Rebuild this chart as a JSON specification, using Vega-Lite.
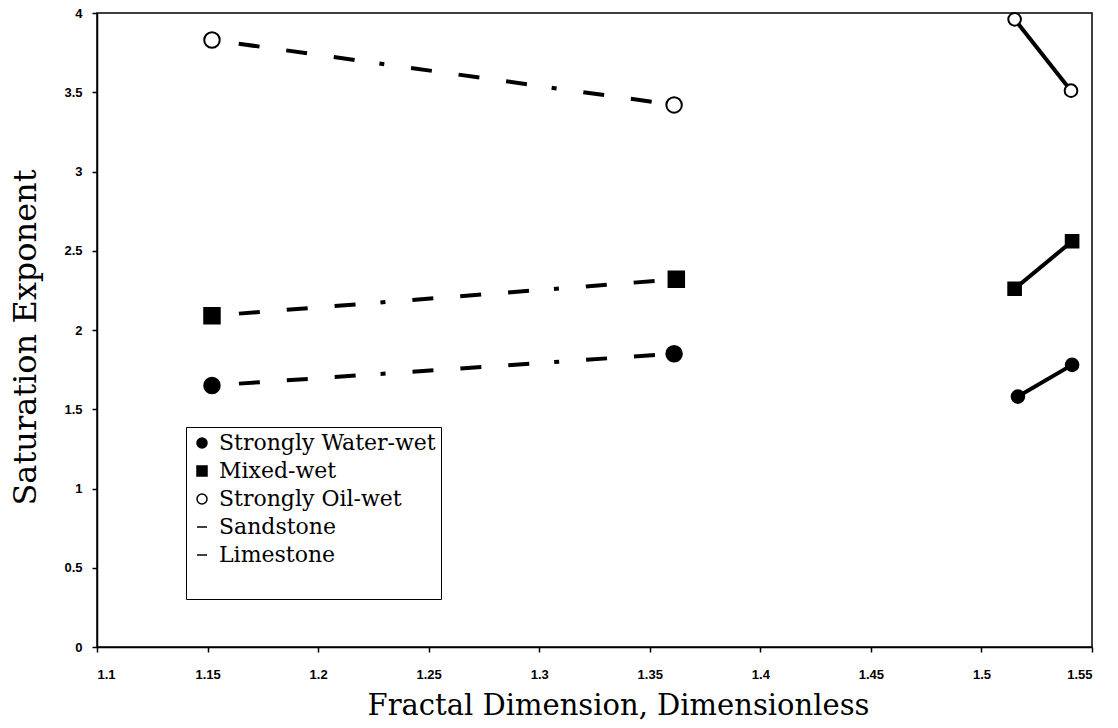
{
  "$schema": "https://vega.github.io/schema/vega-lite/v6.json",
  "width": 995,
  "height": 634,
  "autosize": {"type": "none"},
  "padding": {"left": 97, "top": 13, "right": 26, "bottom": 81},
  "background": "white",
  "data": {
    "values": [
      {"lith": "Sandstone", "wet": "Strongly Water-wet", "fd": 1.152, "n": 1.65},
      {"lith": "Sandstone", "wet": "Strongly Water-wet", "fd": 1.361, "n": 1.85},
      {"lith": "Sandstone", "wet": "Mixed-wet", "fd": 1.152, "n": 2.09},
      {"lith": "Sandstone", "wet": "Mixed-wet", "fd": 1.362, "n": 2.32},
      {"lith": "Sandstone", "wet": "Strongly Oil-wet", "fd": 1.152, "n": 3.83},
      {"lith": "Sandstone", "wet": "Strongly Oil-wet", "fd": 1.361, "n": 3.42},
      {"lith": "Limestone", "wet": "Strongly Water-wet", "fd": 1.5165, "n": 1.58},
      {"lith": "Limestone", "wet": "Strongly Water-wet", "fd": 1.541, "n": 1.78},
      {"lith": "Limestone", "wet": "Mixed-wet", "fd": 1.515, "n": 2.26},
      {"lith": "Limestone", "wet": "Mixed-wet", "fd": 1.541, "n": 2.56},
      {"lith": "Limestone", "wet": "Strongly Oil-wet", "fd": 1.515, "n": 3.96},
      {"lith": "Limestone", "wet": "Strongly Oil-wet", "fd": 1.5405, "n": 3.51}
    ]
  },
  "encoding": {
    "x": {
      "field": "fd", "type": "quantitative",
      "scale": {"domain": [1.1, 1.55], "nice": false, "zero": false},
      "axis": {
        "title": "Fractal Dimension, Dimensionless",
        "values": [1.1, 1.15, 1.2, 1.25, 1.3, 1.35, 1.4, 1.45, 1.5, 1.55],
        "format": "~g",
        "titleX": 521,
        "titlePadding": 10,
        "titleFontSize": 29,
        "labelPadding": 16
      }
    },
    "y": {
      "field": "n", "type": "quantitative",
      "scale": {"domain": [0, 4], "nice": false},
      "axis": {
        "title": "Saturation Exponent",
        "values": [0, 0.5, 1, 1.5, 2, 2.5, 3, 3.5, 4],
        "format": "~g",
        "titleY": 324,
        "titlePadding": 21,
        "titleFontSize": 32,
        "labelPadding": 10
      }
    }
  },
  "layer": [
    {
      "mark": {"type": "line", "strokeWidth": 4, "color": "black", "strokeDashOffset": 147},
      "encoding": {
        "detail": {"field": "wet", "type": "nominal"},
        "strokeDash": {
          "field": "lith", "type": "nominal",
          "scale": {
            "domain": ["Sandstone", "Limestone"],
            "range": [[21, 27, 21, 27, 21, 25, 5, 27], [2000, 1]]
          },
          "legend": null
        }
      }
    },
    {
      "mark": {"type": "point", "strokeWidth": 2, "opacity": 1},
      "encoding": {
        "shape": {
          "field": "wet", "type": "nominal",
          "scale": {
            "domain": ["Strongly Water-wet", "Mixed-wet", "Strongly Oil-wet", "Sandstone", "Limestone", " "],
            "range": ["circle", "square", "circle", "stroke", "stroke", "circle"]
          },
          "legend": {
            "title": null, "orient": "none", "legendX": 89, "legendY": 414,
            "encode": {"symbols": {"update": {
              "strokeWidth": {"value": 1.5},
              "size": {"signal": "datum.value === 'Sandstone' || datum.value === 'Limestone' ? 484 : (datum.value === ' ' ? 0 : 60)"},
              "strokeDash": {"signal": "datum.value === 'Sandstone' ? [2, 2] : [2000, 1]"}
            }}}
          }
        },
        "fill": {
          "field": "wet", "type": "nominal",
          "scale": {
            "domain": ["Strongly Water-wet", "Mixed-wet", "Strongly Oil-wet", "Sandstone", "Limestone", " "],
            "range": ["black", "black", "white", "transparent", "transparent", "transparent"]
          },
          "legend": {
            "title": null, "orient": "none", "legendX": 89, "legendY": 414,
            "encode": {"symbols": {"update": {
              "strokeWidth": {"value": 1.5},
              "size": {"signal": "datum.value === 'Sandstone' || datum.value === 'Limestone' ? 484 : (datum.value === ' ' ? 0 : 60)"},
              "strokeDash": {"signal": "datum.value === 'Sandstone' ? [2, 2] : [2000, 1]"}
            }}}
          }
        },
        "stroke": {
          "field": "wet", "type": "nominal",
          "scale": {
            "domain": ["Strongly Water-wet", "Mixed-wet", "Strongly Oil-wet", "Sandstone", "Limestone", " "],
            "range": ["black", "black", "black", "black", "black", "transparent"]
          },
          "legend": {
            "title": null, "orient": "none", "legendX": 89, "legendY": 414,
            "encode": {"symbols": {"update": {
              "strokeWidth": {"value": 1.5},
              "size": {"signal": "datum.value === 'Sandstone' || datum.value === 'Limestone' ? 484 : (datum.value === ' ' ? 0 : 60)"},
              "strokeDash": {"signal": "datum.value === 'Sandstone' ? [2, 2] : [2000, 1]"}
            }}}
          }
        },
        "size": {
          "field": "lith", "type": "nominal",
          "scale": {"domain": ["Sandstone", "Limestone"], "range": [240, 160]},
          "legend": null
        }
      }
    }
  ],
  "config": {
    "view": {"stroke": "black", "strokeWidth": 1.5},
    "axis": {
      "grid": false,
      "domainColor": "black",
      "domainWidth": 1.5,
      "tickColor": "black",
      "tickWidth": 1.5,
      "tickSize": 5,
      "labelFont": "Liberation Sans",
      "labelFontWeight": "bold",
      "labelFontSize": 13,
      "labelColor": "black",
      "titleFont": "DejaVu Serif",
      "titleFontWeight": "normal",
      "titleColor": "black"
    },
    "legend": {
      "strokeColor": "black",
      "fillColor": "white",
      "padding": 5,
      "rowPadding": 6,
      "labelFont": "DejaVu Serif",
      "labelFontSize": 22,
      "labelColor": "black",
      "labelLimit": 400,
      "symbolStrokeColor": "black",
      "symbolStrokeWidth": 1.5,
      "labelOffset": 6
    }
  }
}
